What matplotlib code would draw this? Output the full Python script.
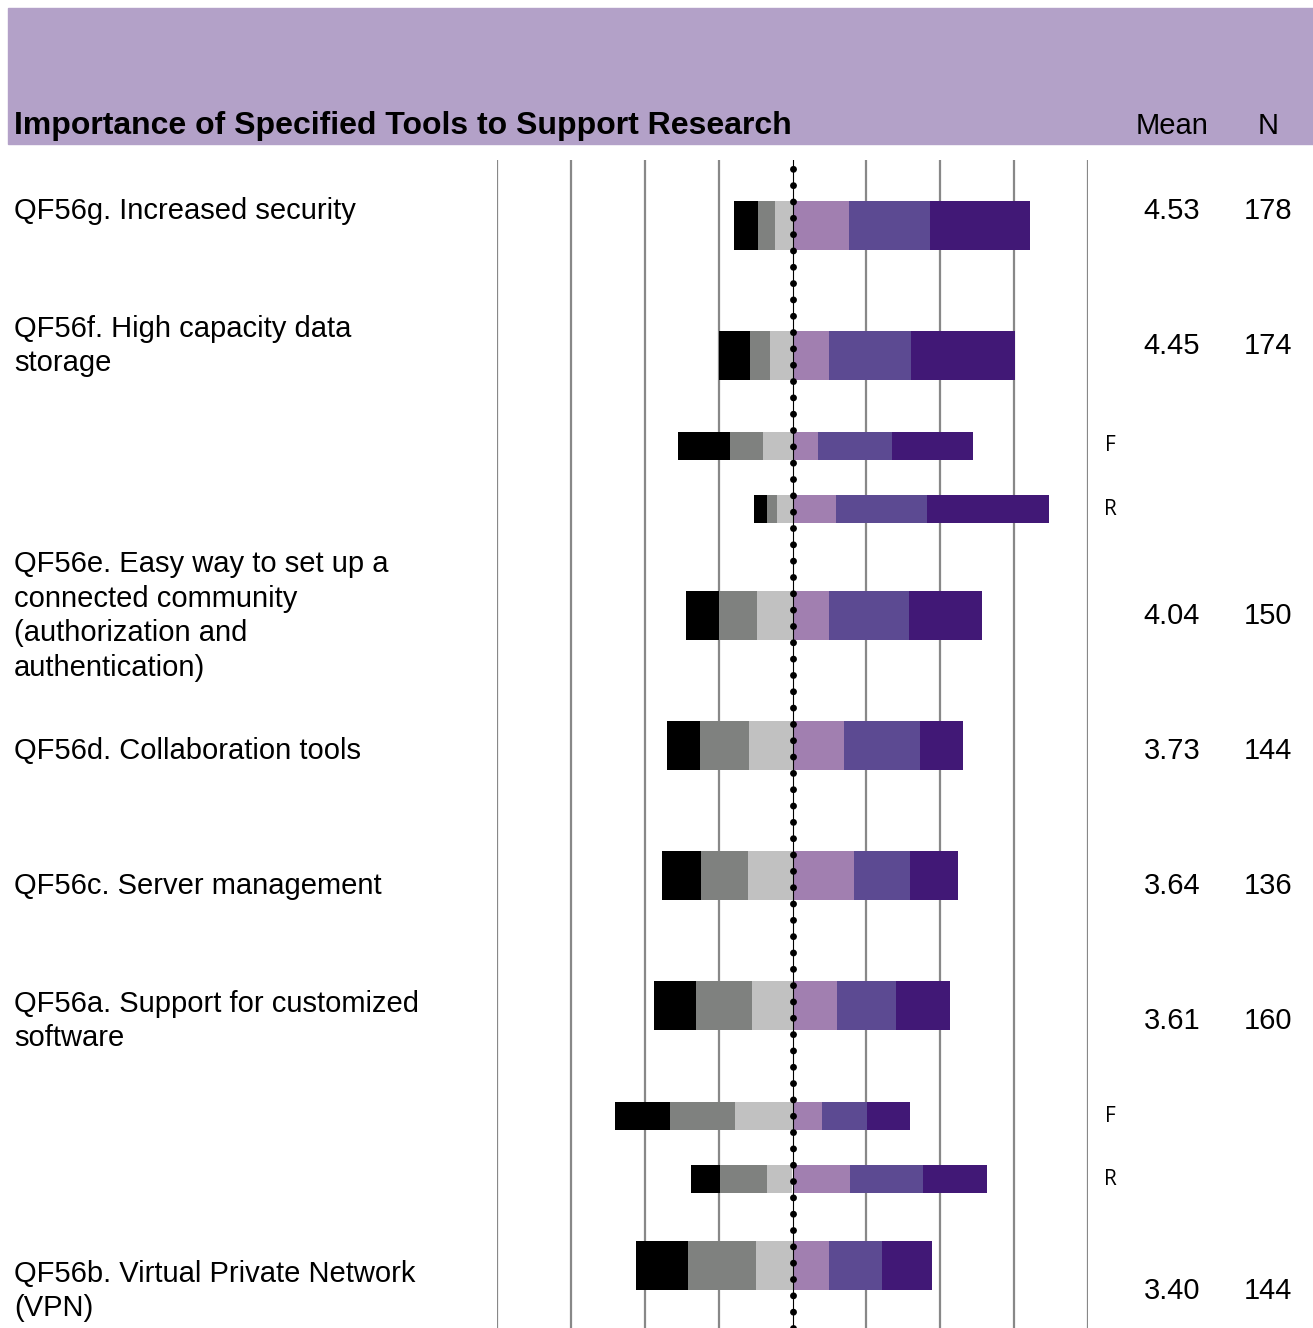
import matplotlib
matplotlib.use("Agg")
import matplotlib.pyplot as plt
from matplotlib.patches import Rectangle

# response categories, most negative first
categories = ["Not at all important", "Not important", "Somewhat unimportant",
              "Somewhat important", "Important", "Very important"]
colors = ["#000000", "#7f817f", "#c1c1c1", "#a17fb0", "#5c4a92", "#411876"]

# bar rows, top to bottom (percent of respondents)
bar_names = ["QF56g", "QF56f", "QF56f F", "QF56f R", "QF56e", "QF56d",
             "QF56c", "QF56a", "QF56a F", "QF56a R", "QF56b"]
pct = [
    [8.1, 5.8, 5.8, 19.0, 27.5, 33.9],
    [10.5, 6.8, 7.5, 12.2, 27.8, 35.3],
    [17.6, 11.2, 9.9, 8.7, 25.1, 27.2],
    [4.4, 3.4, 5.2, 14.8, 30.8, 41.3],
    [11.2, 12.9, 11.9, 12.5, 26.8, 24.7],
    [11.2, 16.6, 14.6, 17.3, 25.8, 14.7],
    [13.2, 15.9, 14.9, 20.7, 19.0, 16.3],
    [14.2, 19.0, 13.6, 14.9, 20.0, 18.3],
    [18.9, 22.0, 19.3, 10.1, 15.2, 14.4],
    [9.5, 16.2, 8.5, 19.3, 24.7, 21.9],
    [17.6, 22.7, 12.5, 12.5, 17.9, 16.8],
]

# question labels with mean and N
labels = ["QF56g. Increased security",
          "QF56f. High capacity data\nstorage",
          "QF56e. Easy way to set up a\nconnected community\n(authorization and\nauthentication)",
          "QF56d. Collaboration tools",
          "QF56c. Server management",
          "QF56a. Support for customized\nsoftware",
          "QF56b. Virtual Private Network\n(VPN)"]
means = ["4.53", "4.45", "4.04", "3.73", "3.64", "3.61", "3.40"]
ns = ["178", "174", "150", "144", "136", "160", "144"]
subgroups = ["F", "R", "F", "R"]

# layout (in row slots)
bar_pos = [0, 1, 1.696, 2.181, 3, 4, 5, 6, 6.85, 7.335, 8]
bar_h = [0.377, 0.377, 0.215, 0.215, 0.377, 0.377, 0.377, 0.377, 0.215, 0.215, 0.377]
label_slots = [0, 1, 3, 4, 5, 6, 8]
sub_bars = [2, 3, 8, 9]

W, H = 1313, 1328
fig = plt.figure(figsize=(W / 100, H / 100), dpi=100)
plt.rcParams["font.family"] = ["Liberation Sans", "DejaVu Sans"]


def fx(px):
    return px / W


def fy(py):
    return 1 - py / H


# header band
fig.patches.append(Rectangle((fx(8), fy(144)), fx(W) - fx(8), fy(8) - fy(144),
                             transform=fig.transFigure, color="#b3a1c8", zorder=0))
fig.text(fx(14), fy(134), "Importance of Specified Tools to Support Research",
         fontsize=23, fontweight="bold", va="baseline", ha="left")
fig.text(fx(1172), fy(134), "Mean", fontsize=21, va="baseline", ha="center")
fig.text(fx(1268), fy(134), "N", fontsize=21, va="baseline", ha="center")

# bar axes: x -100..100 maps to px 497..1088
ax = fig.add_axes([fx(497), fy(1328), fx(1088) - fx(497), fy(160) - fy(1328)])
slot0, step = 225.5, 130.0
ax.set_ylim((1328 - slot0) / step, (160 - slot0) / step)
ax.set_xlim(-100, 100)

for x in range(-100, 101, 25):
    if x != 0:
        ax.axvline(x, color="#888888", lw=1.6, zorder=1)

for i, row in enumerate(pct):
    neg = row[:3]
    left = -sum(neg)
    for j, v in enumerate(row):
        ax.barh(bar_pos[i], v, left=left, height=bar_h[i], color=colors[j],
                edgecolor="none", zorder=2)
        left += v

ax.axvline(0, color="black", lw=0.8, zorder=3)
ax.axvline(0, color="black", lw=5, linestyle=(0, (0.001, 2.35)),
           dash_capstyle="round", zorder=3)
ax.axis("off")

# subgroup tags
for k, bi in enumerate(sub_bars):
    py = slot0 + bar_pos[bi] * step
    fig.text(fx(1110), fy(py), subgroups[k], fontsize=15,
             family=["Open Sans", "DejaVu Sans"], ha="center", va="center")

# labels, means, N
for k, s in enumerate(label_slots):
    py = 211 + 135 * s
    fig.text(fx(14), fy(py), labels[k], fontsize=21, ha="left", va="center",
             linespacing=1.3)
    fig.text(fx(1172), fy(py), means[k], fontsize=21, ha="center", va="center")
    fig.text(fx(1268), fy(py), ns[k], fontsize=21, ha="center", va="center")

fig.savefig("out.png", dpi=100)
